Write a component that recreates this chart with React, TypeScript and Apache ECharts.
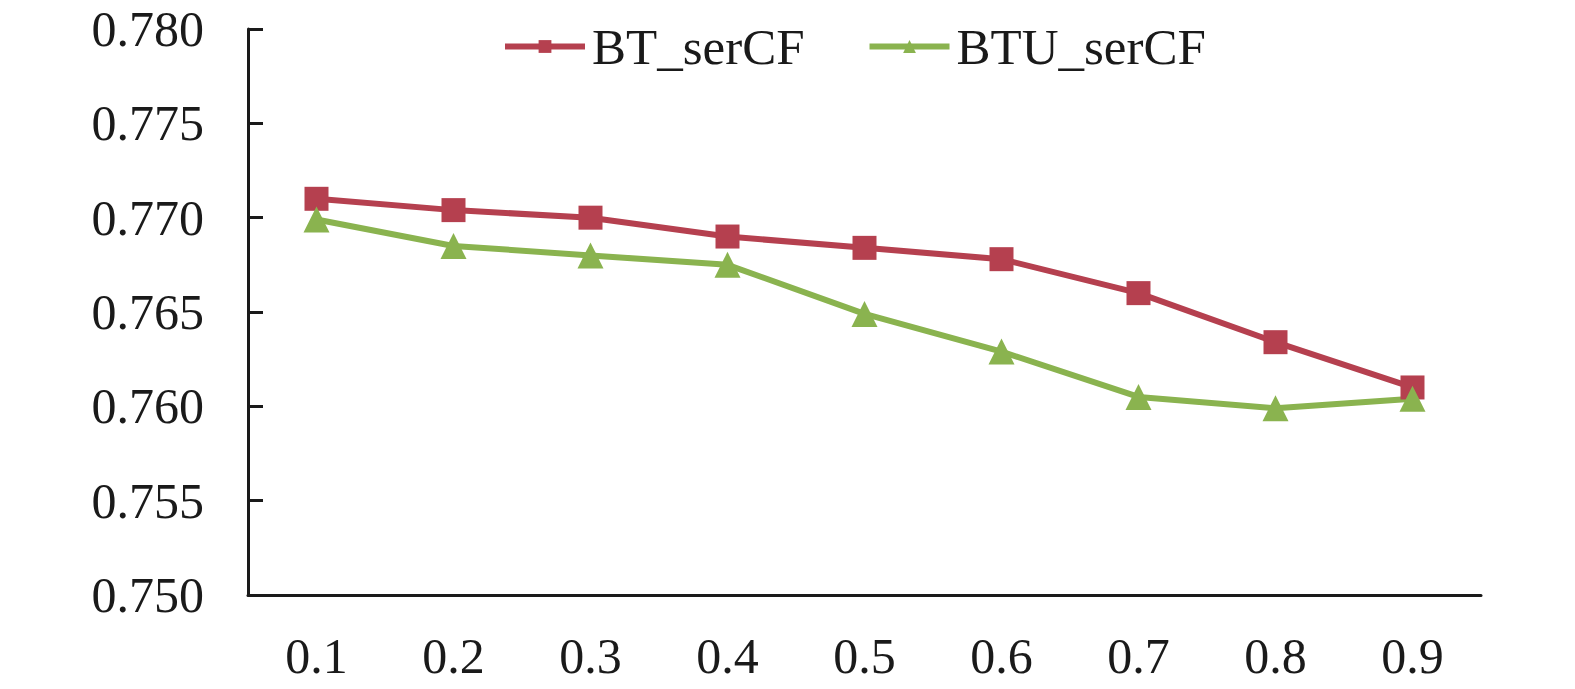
import React, { useEffect, useRef } from "react";
import * as echarts from "echarts";

const categories = ["0.1", "0.2", "0.3", "0.4", "0.5", "0.6", "0.7", "0.8", "0.9"];
const btSerCF = [0.771, 0.7704, 0.77, 0.769, 0.7684, 0.7678, 0.766, 0.7634, 0.761];
const btuSerCF = [0.7699, 0.7685, 0.768, 0.7675, 0.7649, 0.7629, 0.7605, 0.7599, 0.7604];
const seriesNames = ["BT_serCF", "BTU_serCF"];

const FONT = "'Liberation Serif', 'Times New Roman', serif";
const RED = "#B5404F";
const GREEN = "#8AB34F";

export default function App() {
  const ref = useRef<HTMLDivElement>(null);
  useEffect(() => {
    document.body.style.margin = "0";
    if (!ref.current) return;
    const chart = echarts.init(ref.current, null, { renderer: "svg" });
    chart.setOption({
      animation: false,
      backgroundColor: "#ffffff",
      legend: {
        top: 16,
        left: 497,
        itemWidth: 80,
        itemHeight: 16,
        itemGap: 62,
        lineStyle: { width: 6 },
        textStyle: { fontFamily: FONT, fontSize: 51, color: "#1a1a1a", padding: [0, 0, 0, 2] },
        data: seriesNames,
      },
      grid: { left: 248, right: 94, top: 29, bottom: 94, containLabel: false },
      xAxis: {
        type: "category",
        data: categories,
        boundaryGap: true,
        axisLine: { lineStyle: { color: "#1a1a1a", width: 3 } },
        axisTick: { inside: true, alignWithLabel: true, length: 15, lineStyle: { color: "#1a1a1a", width: 3 } },
        axisLabel: { fontFamily: FONT, fontSize: 50, color: "#1a1a1a", margin: 36 },
        splitLine: { show: false },
      },
      yAxis: {
        type: "value",
        min: 0.75,
        max: 0.78,
        interval: 0.005,
        axisLine: { show: true, lineStyle: { color: "#1a1a1a", width: 3 } },
        axisTick: { show: true, inside: true, length: 15, lineStyle: { color: "#1a1a1a", width: 3 } },
        axisLabel: {
          fontFamily: FONT,
          fontSize: 50,
          lineHeight: 40,
          color: "#1a1a1a",
          margin: 44,
          formatter: (v: number) => v.toFixed(3),
        },
        splitLine: { show: false },
      },
      series: [
        {
          name: seriesNames[0],
          type: "line",
          data: btSerCF,
          symbol: "rect",
          symbolSize: 24,
          lineStyle: { color: RED, width: 6 },
          itemStyle: { color: RED },
        },
        {
          name: seriesNames[1],
          type: "line",
          data: btuSerCF,
          symbol: "triangle",
          symbolSize: 26,
          lineStyle: { color: GREEN, width: 6 },
          itemStyle: { color: GREEN },
        },
      ],
    });
    return () => chart.dispose();
  }, []);
  return <div ref={ref} style={{ width: 1575, height: 689 }} />;
}
